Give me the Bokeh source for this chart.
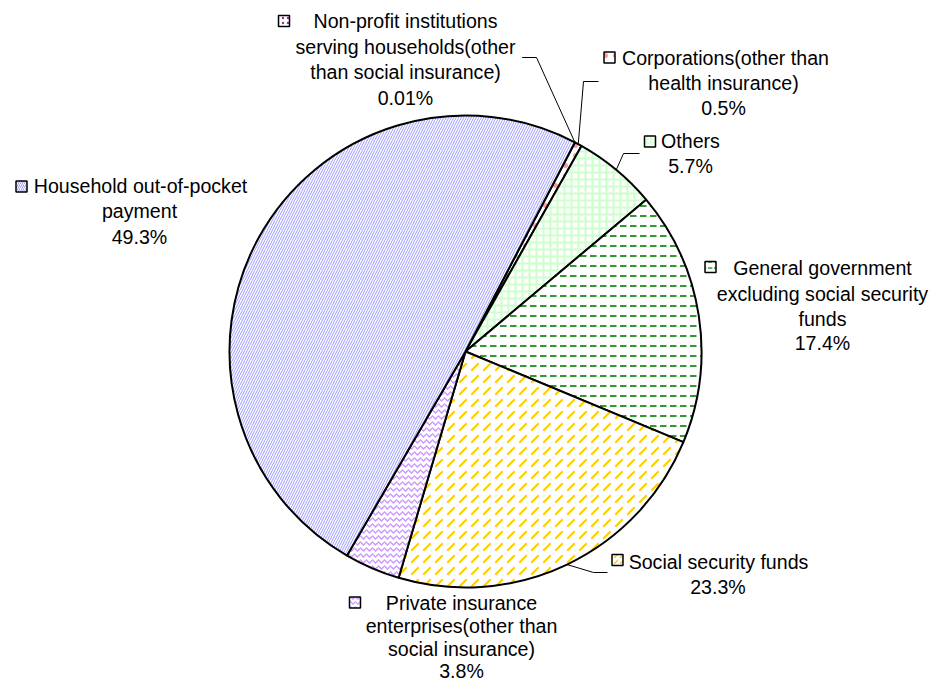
import math
from bokeh.plotting import figure
from bokeh.models import Range1d, ColumnDataSource
from bokeh.core.properties import value
from bokeh.embed import file_html
from bokeh.resources import INLINE

# ---------------- data ----------------
categories = [
    "Non-profit institutions serving households(other than social insurance)",
    "Corporations(other than health insurance)",
    "Others",
    "General government excluding social security funds",
    "Social security funds",
    "Private insurance enterprises(other than social insurance)",
    "Household out-of-pocket payment",
]
shares = [0.01, 0.5, 5.7, 17.4, 23.3, 3.8, 49.3]
pct_labels = ["0.01%", "0.5%", "5.7%", "17.4%", "23.3%", "3.8%", "49.3%"]
label_lines = [
    ["Non-profit institutions", "serving households(other", "than social insurance)"],
    ["Corporations(other than", "health insurance)"],
    ["Others"],
    ["General government", "excluding social security", "funds"],
    ["Social security funds"],
    ["Private insurance", "enterprises(other than", "social insurance)"],
    ["Household out-of-pocket", "payment"],
]

# ---------------- styling / layout ----------------
fill_colors = ["white"] * 7
hatch_patterns = [".", ".", "+", '"', ",", "v", "/"]
hatch_colors = ["#993399", "#ff9999", "#ccffcc", "#339933", "#ffcc00", "#cc99ff", "#9999ff"]
hatch_scales = [6, 10, 7, 10, 12, 6, 5]
hatch_weights = [1.5, 1.0, 2.0, 2.0, 2.0, 1.5, 1.0]
key_scales = [5, 10, 4, 6, 6, 5, 4]
key_weights = [1.2, 1.0, 1.2, 1.5, 1.5, 1.2, 1.0]

CX, CY, R = 465, 351, 236          # pixel coords of the reference image
START_DEG = 27.6                   # clockwise from 12 o'clock

# label layout: key centre, line centres (x, y) in image pixels
key_pos = [(283.5, 20.5), (609, 57), (649.5, 141), (710, 266.5),
           (617, 559.5), (354.5, 602), (21, 186)]
line_x = [[405, 405, 405, 405], [725, 723, 723], [690, 690],
          [822, 822, 822, 822], [718, 717.5], [461, 461, 461, 461],
          [140, 139, 139]]
line_y = [[20, 46, 71.5, 97], [57, 82, 107], [140, 165],
          [267, 293, 318, 342], [561, 586], [602, 625, 648, 670],
          [185, 210, 236]]
leader_start = {0: [(521.7, 57), (536, 57)], 1: [(598, 81), (583, 81)],
                2: [(639, 153), (623, 153)], 4: [(607, 572), (593, 572)]}

W, H = 929, 684
p = figure(width=W, height=H, output_backend="svg", toolbar_location=None,
           x_range=Range1d(0, W), y_range=Range1d(-H, 0),
           min_border=0)
p.axis.visible = False
p.grid.visible = False
p.outline_line_color = None
p.background_fill_color = "white"

# wedges
total = sum(shares)
starts, ends, mids = [], [], []
acc = START_DEG
for s in shares:
    a0 = acc
    a1 = acc + 360.0 * s / total
    starts.append(math.radians(90 - a1))
    ends.append(math.radians(90 - a0))
    mids.append((a0 + a1) / 2)
    acc = a1

src = ColumnDataSource(dict(
    start=starts, end=ends, fill=fill_colors, hp=hatch_patterns,
    hc=hatch_colors, hs=hatch_scales, hw=hatch_weights, cat=categories))
p.wedge(x=CX, y=-CY, radius=R, start_angle="start", end_angle="end",
        fill_color="fill", hatch_pattern="hp", hatch_color="hc",
        hatch_scale="hs", hatch_weight="hw",
        line_color="black", line_width=2, source=src)

# leader lines
for i, pts in leader_start.items():
    a = math.radians(mids[i])
    ex = CX + R * math.sin(a)
    ey = CY - R * math.cos(a)
    xs = [pt[0] for pt in pts] + [ex]
    ys = [-pt[1] for pt in pts] + [-ey]
    p.line(xs, ys, line_color="black", line_width=1)

# legend keys
ksrc = ColumnDataSource(dict(
    x=[k[0] for k in key_pos], y=[-k[1] for k in key_pos],
    fill=fill_colors, hp=hatch_patterns, hc=hatch_colors,
    hs=key_scales, hw=key_weights))
p.rect(x="x", y="y", width=11, height=11, fill_color="fill",
       hatch_pattern="hp", hatch_color="hc", hatch_scale="hs",
       hatch_weight="hw", line_color="black", line_width=1.5, source=ksrc)

# labels
tx, ty, tt = [], [], []
for i in range(len(categories)):
    lines = label_lines[i] + [pct_labels[i]]
    for j, t in enumerate(lines):
        tx.append(line_x[i][j])
        ty.append(-line_y[i][j])
        tt.append(t)
p.text(x=tx, y=ty, text=tt, text_align="center", text_baseline="middle",
       text_font=value("Liberation Sans"), text_font_size="19.6px",
       text_color="black")

open("out.html", "w").write(file_html(p, INLINE))
